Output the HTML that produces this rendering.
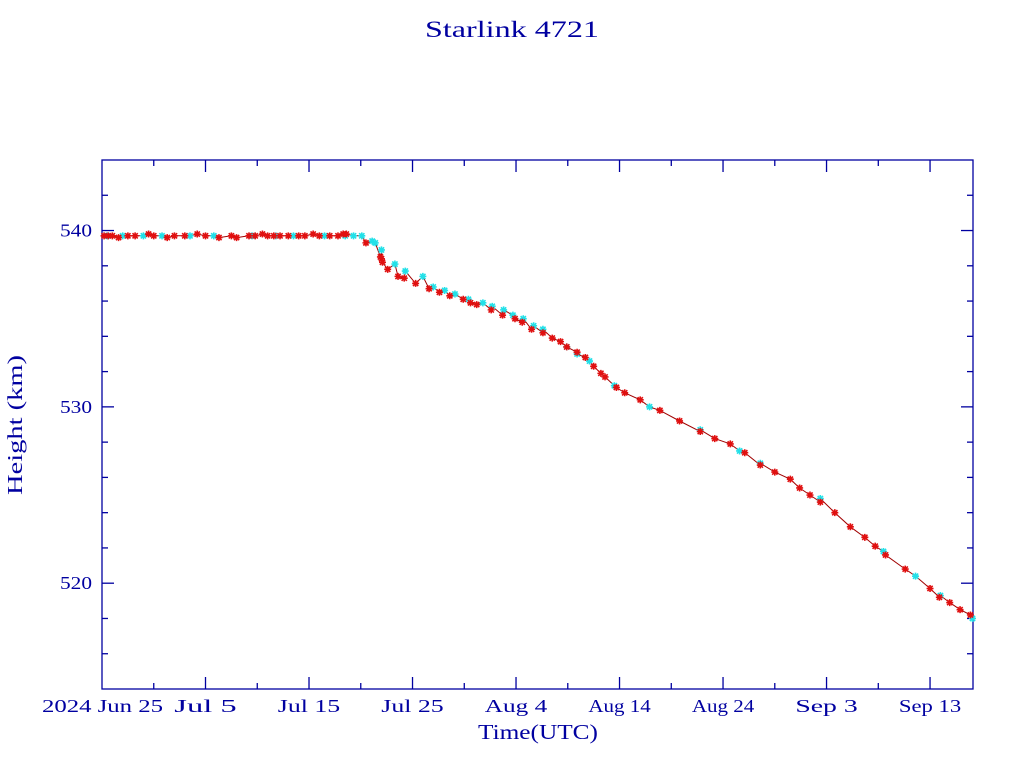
<!DOCTYPE html>
<html><head><meta charset="utf-8">
<style>
html,body{margin:0;padding:0;background:#fff;}
svg{display:block;}
text{font-family:"Liberation Serif",serif;fill:#0000a0;}
</style></head>
<body>
<svg id="chart" width="1024" height="768" viewBox="0 0 1024 768" xmlns="http://www.w3.org/2000/svg">
<text x="425" y="37" font-size="23" textLength="174" lengthAdjust="spacingAndGlyphs">Starlink 4721</text>
<text transform="translate(22,495) rotate(-90)" font-size="21" textLength="140" lengthAdjust="spacingAndGlyphs">Height (km)</text>
<text x="478" y="739" font-size="21" textLength="120" lengthAdjust="spacingAndGlyphs">Time(UTC)</text>
<g id="axes"></g>
<g id="series-line"></g>
<g id="marks"></g>
</svg>
<script>
// days since 2024 Jun 25 00:00 UTC, height in km
const redDays=[0.2,0.6,1.0,1.6,2.5,3.2,4.5,5.0,6.3,7.0,8.0,9.2,10.0,11.3,12.5,13.0,14.2,14.8,15.5,16.0,16.6,17.2,18.0,19.0,19.6,20.4,21.0,22.0,22.8,23.3,23.6,25.5,26.9,27.0,27.1,27.6,28.6,29.2,30.3,31.6,32.6,33.6,34.9,35.6,36.2,37.6,38.7,39.9,40.6,41.5,42.6,43.5,44.3,44.9,45.9,46.7,47.5,48.2,48.6,49.7,50.5,52.0,53.9,55.8,57.8,59.2,60.7,62.1,63.6,65.0,66.5,67.4,68.4,69.4,70.8,72.3,73.7,74.7,75.7,77.6,80.0,80.9,81.9,82.9,83.9];
const redKm=[539.7,539.7,539.7,539.6,539.7,539.7,539.8,539.7,539.6,539.7,539.7,539.8,539.7,539.6,539.7,539.6,539.7,539.7,539.8,539.7,539.7,539.7,539.7,539.7,539.7,539.8,539.7,539.7,539.7,539.8,539.8,539.3,538.5,538.4,538.2,537.8,537.4,537.3,537.0,536.7,536.5,536.3,536.1,535.9,535.8,535.5,535.2,535.0,534.8,534.4,534.2,533.9,533.7,533.4,533.1,532.8,532.3,531.9,531.7,531.1,530.8,530.4,529.8,529.2,528.6,528.2,527.9,527.4,526.7,526.3,525.9,525.4,525.0,524.6,524.0,523.2,522.6,522.1,521.6,520.8,519.7,519.2,518.9,518.5,518.2];
const cyanDays=[0.5,2.0,4.0,5.8,8.5,10.8,14.5,16.8,18.5,21.5,23.5,24.3,25.1,26.1,26.4,27.0,28.3,29.3,31.0,32.0,33.1,34.1,35.4,36.8,37.7,38.8,39.7,40.7,41.7,42.6,44.9,45.9,47.1,49.5,52.9,57.8,61.6,63.6,69.4,75.5,78.6,81.0,84.1];
const cyanKm=[539.7,539.7,539.7,539.7,539.7,539.7,539.7,539.7,539.7,539.7,539.7,539.7,539.7,539.4,539.3,538.9,538.1,537.7,537.4,536.8,536.6,536.4,536.1,535.9,535.7,535.5,535.2,535.0,534.6,534.4,533.4,533.0,532.6,531.2,530.0,528.7,527.5,526.8,524.8,521.8,520.4,519.3,518.0];
const xTickDays=[10,20,30,40,50,60,70,80];
const xTickLabels=["Jul  5","Jul 15","Jul 25","Aug  4","Aug 14","Aug 24","Sep  3","Sep 13"];
const yTickVals=[520,530,540];

const X0=102,X1=973,Y0=160,Y1=689,D0=0,D1=84.15,H0=514,H1=544;
const NS="http://www.w3.org/2000/svg";
function xs(d){return X0+(d-D0)/(D1-D0)*(X1-X0);}
function ys(h){return Y1-(h-H0)/(H1-H0)*(Y1-Y0);}
function mk(tag,attrs,parent){const e=document.createElementNS(NS,tag);for(const k in attrs)e.setAttribute(k,attrs[k]);parent.appendChild(e);return e;}
const axes=document.getElementById('axes');
const frame=mk('rect',{x:X0,y:Y0,width:X1-X0,height:Y1-Y0,fill:'none',stroke:'#0000a0','stroke-width':1.3},axes);


for(let d=5;d<D1;d+=5){
  const major=(d%10===0);const L=major?12:6;const x=xs(d);
  const t1=mk('line',{x1:x,x2:x,y1:Y1,y2:Y1-L,stroke:'#0000a0','stroke-width':1.3},axes);
  
  
  const t2=mk('line',{x1:x,x2:x,y1:Y0,y2:Y0+L,stroke:'#0000a0','stroke-width':1.3},axes);
  
  
}
xTickDays.forEach((d,i)=>{
  const w=xTickLabels[i].length*10.4;
  const t=mk('text',{x:xs(d)-w/2,y:712,'font-size':18,textLength:w,lengthAdjust:'spacingAndGlyphs','xml:space':'preserve'},axes);
  t.textContent=xTickLabels[i];
  
  
});
const t0=mk('text',{x:42,y:712,'font-size':18,textLength:121,lengthAdjust:'spacingAndGlyphs','xml:space':'preserve'},axes);
t0.textContent="2024 Jun 25";


for(let h=516;h<H1;h+=2){
  const major=(h%10===0);const L=major?12:6;const y=ys(h);
  const a=mk('line',{x1:X0,x2:X0+L,y1:y,y2:y,stroke:'#0000a0','stroke-width':1.3},axes);
  
  
  const b=mk('line',{x1:X1,x2:X1-L,y1:y,y2:y,stroke:'#0000a0','stroke-width':1.3},axes);
  
  
}
yTickVals.forEach(v=>{
  const t=mk('text',{x:60,y:ys(v)+6,'font-size':18,textLength:32,lengthAdjust:'spacingAndGlyphs'},axes);
  t.textContent=String(v);
  
  
});
const all=[];
redDays.forEach((d,i)=>all.push([d,redKm[i]]));
cyanDays.forEach((d,i)=>all.push([d,cyanKm[i]]));
all.sort((a,b)=>a[0]-b[0]);
const pl=mk('polyline',{points:all.map(p=>xs(p[0]).toFixed(1)+','+ys(p[1]).toFixed(1)).join(' '),fill:'none',stroke:'#a00000','stroke-width':1},document.getElementById('series-line'));


const marks=document.getElementById('marks');
function star(d,h,col,name){
  const x=xs(d),y=ys(h),r=3.5;
  const g=mk('path',{d:`M${x-r},${y}H${x+r}M${x},${y-r}V${y+r}M${x-r*0.75},${y-r*0.75}L${x+r*0.75},${y+r*0.75}M${x-r*0.75},${y+r*0.75}L${x+r*0.75},${y-r*0.75}`,stroke:col,'stroke-width':1.6,fill:'none'},marks);
  
  
}
cyanDays.forEach((d,i)=>star(d,cyanKm[i],'#22e0e8','cyan-point'));
redDays.forEach((d,i)=>star(d,redKm[i],'#e01010','red-point'));
</script>
</body></html>
